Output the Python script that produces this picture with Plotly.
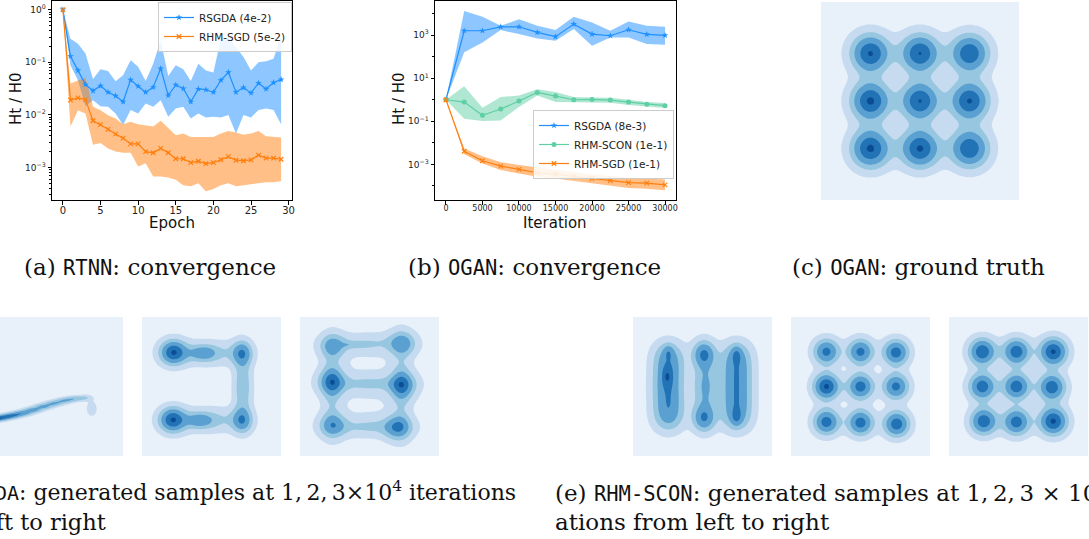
import numpy as np
import plotly.graph_objects as go

W, H = 1089, 539

# ---------------- (a) RTNN convergence ----------------
epochs = list(range(30))
a_rsgda_mean = [1.0, 0.13, 0.070, 0.0377, 0.0286, 0.0356, 0.0269, 0.0230, 0.0177, 0.0462,
                0.035, 0.0269, 0.0335, 0.0759, 0.0233, 0.0371, 0.0316, 0.0177, 0.031, 0.030,
                0.0269, 0.0455, 0.0645, 0.027, 0.033, 0.026, 0.040, 0.031, 0.041, 0.0469]
a_rsgda_hi = [1.0, 0.28, 0.226, 0.146, 0.048, 0.0736, 0.068, 0.0435, 0.0567, 0.109,
              0.082, 0.044, 0.094, 0.262, 0.055, 0.088, 0.0736, 0.044, 0.094, 0.07,
              0.064, 0.28, 0.30, 0.195, 0.126, 0.07, 0.10, 0.104, 0.117, 0.326]
a_rsgda_lo = [1.0, 0.0877, 0.0455, 0.0146, 0.019, 0.0146, 0.0142, 0.0106, 0.0064, 0.0123,
              0.0106, 0.0164, 0.0142, 0.019, 0.0092, 0.0132, 0.0142, 0.0085, 0.0106, 0.0089,
              0.0092, 0.0089, 0.0099, 0.0044, 0.0099, 0.0089, 0.0123, 0.0132, 0.0123, 0.0066]
a_sgd_mean = [1.0, 0.019, 0.021, 0.0195, 0.0077, 0.0065, 0.0053, 0.0043, 0.0036, 0.0028,
              0.0028, 0.0020, 0.0019, 0.0023, 0.0019, 0.00146, 0.00146, 0.00123, 0.00131, 0.00118,
              0.00123, 0.0014, 0.0016, 0.00137, 0.00134, 0.00139, 0.00171, 0.0015, 0.0015, 0.00143]
a_sgd_hi = [1.0, 0.0394, 0.045, 0.051, 0.0142, 0.0122, 0.0098, 0.0085, 0.0066, 0.0074,
            0.0066, 0.0063, 0.006, 0.0077, 0.0057, 0.0041, 0.0044, 0.0038, 0.0038, 0.0038,
            0.0038, 0.0044, 0.0049, 0.0046, 0.0042, 0.0044, 0.0049, 0.0039, 0.0038, 0.0037]
a_sgd_lo = [1.0, 0.006, 0.0122, 0.0106, 0.0027, 0.0029, 0.0023, 0.002, 0.0019, 0.0019,
            0.00104, 0.0012, 0.00067, 0.00067, 0.00064, 0.00058, 0.00046, 0.00044, 0.0005, 0.00035,
            0.00039, 0.00046, 0.0005, 0.00044, 0.00046, 0.00048, 0.0005, 0.00052, 0.00052, 0.00055]
a_names = ["RSGDA (4e-2)", "RHM-SGD (5e-2)"]
a_xticks = [0, 5, 10, 15, 20, 25, 30]
a_yticks = [1, 0.1, 0.01, 0.001]
a_yticktext = ["10<sup>0</sup>", "10<sup>−1</sup>", "10<sup>−2</sup>", "10<sup>−3</sup>"]

# ---------------- (b) OGAN convergence ----------------
iters = [0, 2500, 5000, 7500, 10000, 12500, 15000, 17500, 20000, 22500, 25000, 27500, 30000]
b_rsgda_mean = [1.0, 1585, 1585, 2420, 2420, 1330, 840, 3220, 1110, 930, 1760, 1070, 965]
b_rsgda_hi = [1.0, 13200, 7000, 2700, 5460, 2700, 1700, 7000, 3850, 1585, 4280, 2700, 2420]
b_rsgda_lo = [1.0, 158, 458, 1700, 1110, 700, 548, 1890, 322, 780, 780, 384, 358]
b_scon_mean = [1.0, 0.78, 0.189, 0.37, 0.87, 2.18, 1.48, 1.0, 1.03, 0.97, 0.78, 0.62, 0.53]
b_scon_hi = [1.0, 4.27, 0.43, 1.33, 1.58, 3.1, 2.26, 1.33, 1.28, 1.23, 1.0, 0.78, 0.70]
b_scon_lo = [1.0, 0.133, 0.104, 0.11, 0.46, 1.58, 0.78, 0.78, 0.78, 0.72, 0.57, 0.49, 0.41]
b_sgd_mean = [1.0, 0.0041, 0.00148, 0.00084, 0.00059, 0.00041, 0.00035, 0.00028, 0.00022,
              0.00018, 0.000143, 0.000136, 0.000112]
b_sgd_hi = [1.0, 0.0055, 0.0024, 0.00126, 0.00095, 0.00073, 0.00057, 0.00043, 0.00035,
            0.00028, 0.00024, 0.00022, 0.00020]
b_sgd_lo = [1.0, 0.003, 0.0011, 0.00055, 0.00038, 0.00027, 0.00022, 0.00017, 0.000136,
            0.000106, 0.00008, 0.000075, 0.000063]
b_names = ["RSGDA (8e-3)", "RHM-SCON (1e-1)", "RHM-SGD (1e-1)"]
b_xticks = [0, 5000, 10000, 15000, 20000, 25000, 30000]
b_xticktext = ["0", "5000", "10000", "15000", "20000", "25000", "30000"]
b_yticks = [1000, 10, 0.1, 0.001]
b_yticktext = ["10<sup>3</sup>", "10<sup>1</sup>", "10<sup>−1</sup>", "10<sup>−3</sup>"]

# ---------------- density panels: Gaussian modes (x, y, weight, sx, sy) ----------------
gt_modes = [(-0.5, 0.48, 1.00, 0.13, 0.13), (0.0, 0.48, 0.99, 0.13, 0.13), (0.5, 0.48, 0.95, 0.13, 0.13),
            (-0.5, 0.0, 1.02, 0.13, 0.13), (0.0, 0.0, 0.99, 0.13, 0.13), (0.5, 0.0, 1.00, 0.13, 0.13),
            (-0.5, -0.48, 1.02, 0.13, 0.13), (0.0, -0.48, 1.01, 0.13, 0.13), (0.5, -0.48, 0.95, 0.13, 0.13)]
d1_modes = [(-1.05, -0.50, 1.0, 0.09, 0.028), (-0.90, -0.475, 1.0, 0.09, 0.028),
            (-0.75, -0.45, 1.0, 0.09, 0.028), (-0.60, -0.42, 0.9, 0.09, 0.028),
            (-0.45, -0.385, 0.8, 0.09, 0.028), (-0.30, -0.34, 0.72, 0.09, 0.028),
            (-0.15, -0.29, 0.66, 0.09, 0.028), (0.00, -0.245, 0.6, 0.09, 0.028),
            (0.15, -0.205, 0.55, 0.09, 0.028), (0.30, -0.175, 0.5, 0.09, 0.028),
            (0.45, -0.16, 0.3, 0.07, 0.028), (0.55, -0.32, 0.17, 0.07, 0.10)]
d2_modes = [(-0.55, 0.49, 1.0, 0.13, 0.12), (-0.12, 0.48, 0.45, 0.12, 0.07), (0.44, 0.48, 0.65, 0.1, 0.12),
            (-0.56, -0.48, 1.0, 0.13, 0.12), (-0.17, -0.49, 0.45, 0.12, 0.07), (0.44, -0.49, 0.65, 0.1, 0.12),
            (0.45, 0.0, 0.45, 0.09, 0.3), (-0.05, 0.48, 0.35, 0.32, 0.12), (-0.05, -0.48, 0.35, 0.32, 0.12)]
d3_modes = [(-0.53, 0.58, 0.75, 0.13, 0.12), (0.47, 0.62, 0.8, 0.13, 0.12),
            (-0.54, 0.07, 1.0, 0.13, 0.13), (0.47, 0.02, 0.95, 0.13, 0.13),
            (-0.53, -0.56, 0.85, 0.13, 0.12), (0.41, -0.59, 0.95, 0.13, 0.12),
            (-0.22, 0.6, 0.3, 0.14, 0.03), (0.0, 0.62, 0.33, 0.35, 0.09),
            (0.0, 0.04, 0.38, 0.35, 0.08), (0.0, -0.58, 0.38, 0.35, 0.09),
            (-0.54, 0.0, 0.35, 0.09, 0.4), (0.46, 0.0, 0.35, 0.09, 0.4),
            (0.0, 0.0, 0.11, 0.5, 0.6)]
e1_modes = [(-0.49, 0.45, 0.5, 0.15, 0.15), (-0.49, 0.225, 0.5, 0.15, 0.15), (-0.50, 0.0, 0.5, 0.15, 0.15),
            (-0.49, -0.225, 0.5, 0.15, 0.15), (-0.49, -0.45, 0.5, 0.15, 0.15),
            (-0.49, 0.5, 0.25, 0.05, 0.07), (-0.51, 0.14, 0.3, 0.05, 0.1),
            (0.02, 0.47, 0.75, 0.11, 0.13), (0.02, -0.46, 0.7, 0.11, 0.13), (0.04, 0.0, 0.55, 0.12, 0.3),
            (0.49, 0.45, 0.5, 0.15, 0.15), (0.49, 0.225, 0.5, 0.15, 0.15), (0.49, 0.0, 0.5, 0.15, 0.15),
            (0.49, -0.225, 0.5, 0.15, 0.15), (0.49, -0.45, 0.5, 0.15, 0.15),
            (0.49, 0.47, 0.3, 0.05, 0.08), (0.49, -0.45, 0.3, 0.05, 0.08)]
e2_modes = [(-0.49, 0.50, 0.80, 0.125, 0.125), (0.0, 0.50, 0.80, 0.125, 0.125), (0.51, 0.49, 0.85, 0.125, 0.125),
            (-0.49, 0.0, 1.00, 0.125, 0.125), (0.0, 0.0, 0.85, 0.125, 0.125), (0.51, 0.0, 0.80, 0.125, 0.125),
            (-0.49, -0.51, 0.85, 0.125, 0.125), (0.0, -0.52, 0.85, 0.125, 0.125), (0.52, -0.54, 0.88, 0.125, 0.125)]
e3_modes = [(-0.52, 0.50, 0.97, 0.13, 0.13), (-0.03, 0.50, 0.93, 0.13, 0.13), (0.50, 0.50, 1.04, 0.135, 0.135),
            (-0.52, 0.0, 0.92, 0.13, 0.13), (-0.03, 0.0, 0.92, 0.13, 0.13), (0.48, -0.01, 0.94, 0.13, 0.13),
            (-0.50, -0.50, 0.94, 0.13, 0.13), (-0.03, -0.51, 0.90, 0.13, 0.13), (0.50, -0.50, 1.05, 0.135, 0.135)]

LEVELS = [0.075, 0.25, 0.45, 0.72, 0.965]
LEVEL_COLORS = ["#e8f0fa", "#c6dbef", "#97c6e0", "#5aa0d1", "#2272b6", "#0b4d94"]

BLUE = "#1e90ff"
ORANGE = "#ff7f0e"
GREEN = "#5fcfa5"

fig = go.Figure()


def px_x(x):
    return x / W


def px_y(y):
    return 1 - y / H


def band(x, hi, lo, color, xa, ya):
    fig.add_trace(go.Scatter(x=x, y=hi, xaxis=xa, yaxis=ya, mode="lines", line=dict(width=0),
                             showlegend=False, hoverinfo="skip"))
    fig.add_trace(go.Scatter(x=x, y=lo, xaxis=xa, yaxis=ya, mode="lines", line=dict(width=0),
                             fill="tonexty", fillcolor=color, showlegend=False, hoverinfo="skip"))


XMARK = dict(symbol="x-thin", size=4.5, color=ORANGE, line=dict(width=1.2, color=ORANGE))

# (a) bands and lines
band(epochs, a_rsgda_hi, a_rsgda_lo, "rgba(30,144,255,0.5)", "x", "y")
band(epochs, a_sgd_hi, a_sgd_lo, "rgba(255,127,14,0.5)", "x", "y")
fig.add_trace(go.Scatter(x=epochs, y=a_rsgda_mean, xaxis="x", yaxis="y", name=a_names[0],
                         mode="lines+markers", line=dict(color=BLUE, width=1.2),
                         marker=dict(symbol="star", size=5, color=BLUE), legend="legend"))
fig.add_trace(go.Scatter(x=epochs, y=a_sgd_mean, xaxis="x", yaxis="y", name=a_names[1],
                         mode="lines+markers", line=dict(color=ORANGE, width=1.2),
                         marker=XMARK, legend="legend"))

# (b) bands and lines
band(iters, b_rsgda_hi, b_rsgda_lo, "rgba(30,144,255,0.5)", "x2", "y2")
band(iters, b_scon_hi, b_scon_lo, "rgba(95,207,165,0.5)", "x2", "y2")
band(iters, b_sgd_hi, b_sgd_lo, "rgba(255,127,14,0.5)", "x2", "y2")
fig.add_trace(go.Scatter(x=iters, y=b_rsgda_mean, xaxis="x2", yaxis="y2", name=b_names[0],
                         mode="lines+markers", line=dict(color=BLUE, width=1.2),
                         marker=dict(symbol="star", size=5, color=BLUE), legend="legend2"))
fig.add_trace(go.Scatter(x=iters, y=b_scon_mean, xaxis="x2", yaxis="y2", name=b_names[1],
                         mode="lines+markers", line=dict(color=GREEN, width=1.2),
                         marker=dict(symbol="circle", size=5, color=GREEN), legend="legend2"))
fig.add_trace(go.Scatter(x=iters, y=b_sgd_mean, xaxis="x2", yaxis="y2", name=b_names[2],
                         mode="lines+markers", line=dict(color=ORANGE, width=1.2),
                         marker=XMARK, legend="legend2"))

# density panels
grid = np.linspace(-1.1, 1.1, 181)
GX, GY = np.meshgrid(grid, grid)


def density(modes):
    z = np.zeros_like(GX)
    for (mx, my, w, sx, sy) in modes:
        z += w * np.exp(-((GX - mx) ** 2) / (2 * sx ** 2) - ((GY - my) ** 2) / (2 * sy ** 2))
    z = z / z.max()
    xp = [0.0] + LEVELS + [1.01]
    fp = list(range(len(xp)))
    return np.interp(z, xp, fp)


n = len(LEVEL_COLORS)
cscale = [[i / (n - 1), c] for i, c in enumerate(LEVEL_COLORS)]

panels = [
    (gt_modes, 3, (821, 1019), (2, 200), [-1, 1]),
    (d1_modes, 4, (0, 123), (317, 456), [-1 + 2 * 16 / 139, 1]),
    (d2_modes, 5, (142, 281), (317, 456), [-1, 1]),
    (d3_modes, 6, (300, 439), (317, 456), [-1, 1]),
    (e1_modes, 7, (633, 772), (317, 456), [-1, 1]),
    (e2_modes, 8, (791, 930), (317, 456), [-1, 1]),
    (e3_modes, 9, (949, 1088), (317, 456), [-1, 1]),
]

layout_axes = {}
for modes, k, (x0, x1), (y0, y1), xr in panels:
    fig.add_trace(go.Contour(x=grid, y=grid, z=density(modes), xaxis=f"x{k}", yaxis=f"y{k}",
                             autocontour=False,
                             contours=dict(start=1, end=len(LEVELS), size=1, coloring="fill"),
                             colorscale=cscale, showscale=False, line=dict(width=0),
                             hoverinfo="skip"))
    layout_axes[f"xaxis{k}"] = dict(domain=[px_x(x0), px_x(x1)], range=xr, anchor=f"y{k}",
                                    showgrid=False, zeroline=False, showticklabels=False,
                                    ticks="", showline=False, automargin=False)
    layout_axes[f"yaxis{k}"] = dict(domain=[px_y(y1), px_y(y0)], range=[-1, 1], anchor=f"x{k}",
                                    showgrid=False, zeroline=False, showticklabels=False,
                                    ticks="", showline=False, automargin=False)

SANS = "DejaVu Sans"
common = dict(showline=True, linecolor="black", linewidth=1, mirror=True, ticks="outside",
              ticklen=3.5, tickwidth=0.8, tickcolor="black", showgrid=False, zeroline=False,
              automargin=False)

a_minor = [m * 10.0 ** e for e in range(-4, 1) for m in range(2, 10)]
b_minor = [10.0 ** e for e in (-4, -2, 0, 2, 4)]

legend_common = dict(xanchor="right", yanchor="top", bgcolor="rgba(255,255,255,0.85)",
                     bordercolor="#cccccc", borderwidth=1, traceorder="normal",
                     font=dict(family=SANS, size=10.5, color="#222"), tracegroupgap=0,
                     itemwidth=30)

fig.update_layout(
    width=W, height=H, margin=dict(l=0, r=0, t=0, b=0, autoexpand=False),
    paper_bgcolor="white", plot_bgcolor="white",
    xaxis=dict(domain=[px_x(52), px_x(292)], range=[-1.45, 30.45], anchor="y",
               tickvals=a_xticks, tickfont=dict(family=SANS, size=10, color="#222"),
               ticklabelstandoff=-3, **common),
    yaxis=dict(domain=[px_y(200), px_y(1)], type="log", range=[-3.62, 0.165], anchor="x",
               tickvals=a_yticks, ticktext=a_yticktext,
               tickfont=dict(family=SANS, size=9, color="#222"),
               minor=dict(tickvals=a_minor, ticks="outside", ticklen=2, tickcolor="black"),
               **common),
    xaxis2=dict(domain=[px_x(435), px_x(676)], range=[-1500, 31500], anchor="y2",
                tickvals=b_xticks, ticktext=b_xticktext, ticklabelstandoff=-3,
                tickfont=dict(family=SANS, size=8, color="#222"), **common),
    yaxis2=dict(domain=[px_y(200), px_y(1)], type="log", range=[-4.65, 4.58], anchor="x2",
                tickvals=b_yticks, ticktext=b_yticktext,
                tickfont=dict(family=SANS, size=9, color="#222"),
                minor=dict(tickvals=b_minor, ticks="outside", ticklen=2, tickcolor="black"),
                **common),
    legend=dict(x=px_x(292), y=px_y(2), **legend_common),
    legend2=dict(x=px_x(674), y=px_y(110), **legend_common),
    **layout_axes,
)

# axis titles
axis_titles = [
    (172, 223, 0, "Epoch"),
    (555, 223, 0, "Iteration"),
    (16, 99, -90, "Ht / H0"),
    (399, 99, -90, "Ht / H0"),
]
for x, y, ang, text in axis_titles:
    fig.add_annotation(x=px_x(x), y=px_y(y), xref="paper", yref="paper", text=text, showarrow=False,
                       xanchor="center", yanchor="middle", textangle=ang,
                       font=dict(family=SANS, size=15, color="#111"))

SERIF = "DejaVu Serif"
MONO = "DejaVu Sans Mono"
TS = "\u2009"


def tt(s, size=20.5):
    return f"<span style='font-family:{MONO};font-size:{size}px'>{s}</span>"


captions = [
    (150, 267, "center", 23, f"(a) {tt('RTNN')}: convergence"),
    (534, 267, "center", 23, f"(b) {tt('OGAN')}: convergence"),
    (918, 267, "center", 23, f"(c) {tt('OGAN')}: ground truth"),
    (-7, 491, "left", 22, f"{tt('DA', 20)}: generated samples at 1,{TS}2,{TS}3×10<sup>4</sup> iterations"),
    (108, 522, "right", 22.5, "from left to right"),
    (553, 491, "left", 23, f"(e) {tt('RHM-SCON')}: generated samples at 1,{TS}2,{TS}3 × 10<sup>4</sup> iter-"),
    (553, 522, "left", 23, "ations from left to right"),
]
for x, y, anchor, size, text in captions:
    fig.add_annotation(x=px_x(x), y=px_y(y), xref="paper", yref="paper", text=text, showarrow=False,
                       xanchor=anchor, yanchor="middle",
                       font=dict(family=SERIF, size=size, color="#111"))

fig.write_html("out.html", config={"displayModeBar": False},
               post_script="document.body.style.margin='0px';document.body.style.overflow='hidden';")
